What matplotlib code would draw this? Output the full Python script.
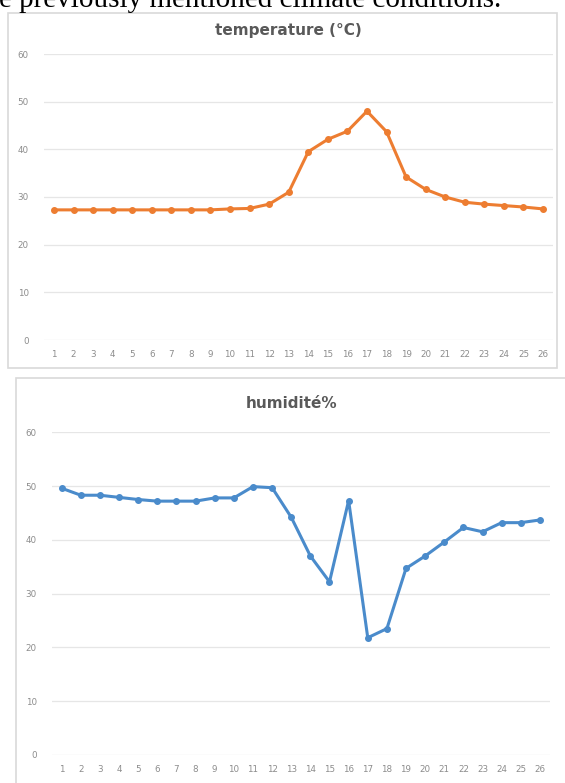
import matplotlib
matplotlib.use("Agg")
import matplotlib.pyplot as plt
from matplotlib.patches import Rectangle

days = list(range(1, 27))
temperature = [27.3, 27.3, 27.3, 27.3, 27.3, 27.3, 27.3, 27.3, 27.3, 27.5, 27.6, 28.5, 31.0,
               39.5, 42.1, 43.8, 48.0, 43.7, 34.2, 31.6, 30.0, 28.9, 28.5, 28.2, 27.9, 27.5]
humidity = [49.6, 48.3, 48.3, 47.9, 47.5, 47.2, 47.2, 47.2, 47.8, 47.8, 49.9, 49.7, 44.2,
            37.0, 32.2, 47.3, 21.8, 23.5, 34.7, 37.0, 39.6, 42.3, 41.5, 43.2, 43.2, 43.7]
yticks = [0, 10, 20, 30, 40, 50, 60]
title_temp = "temperature (°C)"
title_hum = "humidité%"
caption = "e previously mentioned climate conditions."

W, H = 565, 783
fig = plt.figure(figsize=(W / 100, H / 100), dpi=100)
fig.patch.set_facecolor("white")

def px_rect(x0, y0, x1, y1):
    return [x0 / W, 1 - y1 / H, (x1 - x0) / W, (y1 - y0) / H]

# chart frames
for (x0, y0, x1, y1) in [(8, 13, 557, 368), (16, 378, 570, 790)]:
    fig.patches.append(Rectangle((x0 / W, 1 - y1 / H), (x1 - x0) / W, (y1 - y0) / H,
                                 transform=fig.transFigure, fill=False,
                                 edgecolor="#d9d9d9", linewidth=1.2))

fig.text(-0.002, 1 - 7 / H, caption, family="Liberation Serif", fontsize=21,
         ha="left", va="baseline", color="black")

def style(ax, x, y, color, title, title_x, title_y):
    ax.plot(x, y, color=color, linewidth=2.2, marker="o", markersize=4,
            markerfacecolor=color, markeredgecolor=color)
    ax.set_xlim(0.5, 26.5)
    ax.set_ylim(0, 60)
    ax.set_yticks(yticks)
    ax.set_xticks(x)
    ax.set_xticklabels([str(v) for v in x])
    ax.grid(axis="y", color="#e6e6e6", linewidth=0.9)
    ax.set_axisbelow(True)
    for s in ax.spines.values():
        s.set_visible(False)
    ax.tick_params(length=0, labelsize=6.3, labelcolor="#8c8c8c")
    ax.tick_params(axis="x", pad=7)
    ax.tick_params(axis="y", pad=11)
    fig.text(title_x / W, 1 - title_y / H, title, ha="center", va="center",
             fontsize=11, fontweight="bold", color="#595959")

ax1 = fig.add_axes(px_rect(44.2, 54, 552.8, 340))
style(ax1, days, temperature, "#ED7D31", title_temp, 288, 30)

ax2 = fig.add_axes(px_rect(52.1, 432.3, 549.5, 755))
style(ax2, days, humidity, "#4A8BCB", title_hum, 292, 404)

fig.savefig("out.png", dpi=100, facecolor="white")
